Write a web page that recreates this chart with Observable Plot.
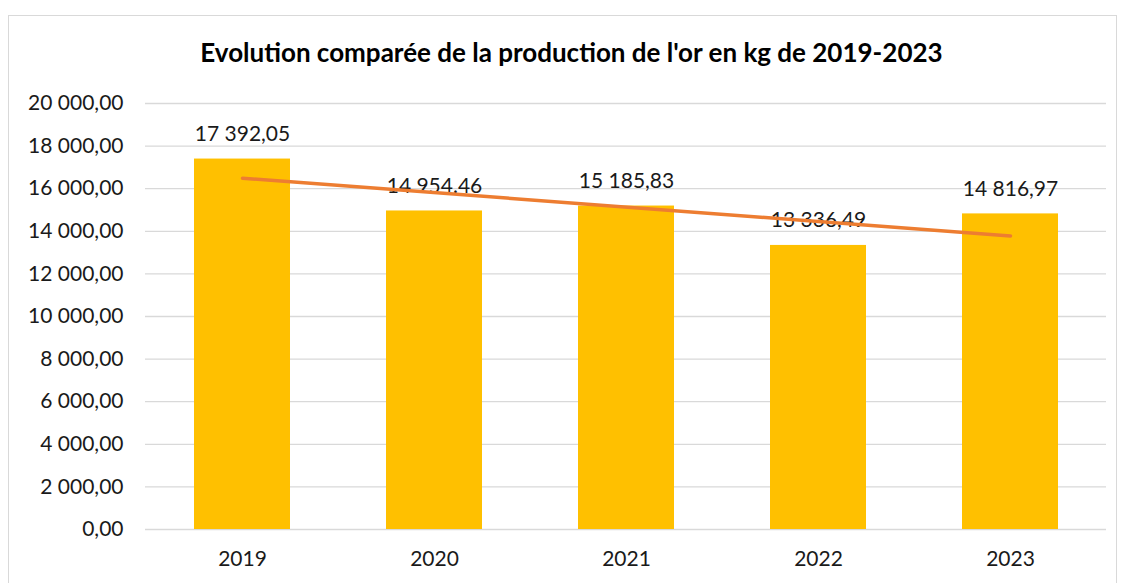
<!DOCTYPE html>
<html>
<head>
<meta charset="utf-8">
<script src="https://cdn.jsdelivr.net/npm/d3@7"></script>
<script src="https://cdn.jsdelivr.net/npm/@observablehq/plot@0.6"></script>
<style>
  html, body { margin: 0; padding: 0; background: #fff; }
  body { width: 1121px; height: 583px; position: relative; overflow: hidden; font-family: Lato, "Open Sans", sans-serif; }
  #frame { position: absolute; left: 8px; top: 15px; width: 1109px; height: 620px; border: 1px solid #d9d9d9; box-sizing: border-box; }
  #title { position: absolute; left: 0; top: 35px; width: 1143px; text-align: center; font-weight: bold; font-size: 26px; line-height: 34px; color: #000; }
  #chart { position: absolute; left: 0; top: 80px; }
</style>
</head>
<body>
<div id="frame"></div>
<div id="title">Evolution comparée de la production de l'or en kg de 2019-2023</div>
<div id="chart"></div>
<script>
const years = ["2019", "2020", "2021", "2022", "2023"];
const production = [17392.05, 14954.46, 15185.83, 13336.49, 14816.97];
const valueLabels = ["17 392,05", "14 954.46", "15 185,83", "13 336,49", "14 816,97"];
const trendYears = ["2019", "2023"];
const trendValues = [16490.8, 13783.5];
const yTicks = [0, 2000, 4000, 6000, 8000, 10000, 12000, 14000, 16000, 18000, 20000];
const yTickLabels = ["0,00", "2 000,00", "4 000,00", "6 000,00", "8 000,00", "10 000,00", "12 000,00", "14 000,00", "16 000,00", "18 000,00", "20 000,00"];

const data = years.map((y, i) => ({year: y, value: production[i], label: valueLabels[i]}));
const trend = trendYears.map((y, i) => ({year: y, value: trendValues[i]}));
const tickLabel = new Map(yTicks.map((t, i) => [t, yTickLabels[i]]));

const chart = Plot.plot({
  width: 1121,
  height: 503,
  marginLeft: 145,
  marginRight: 15,
  marginTop: 23,
  marginBottom: 54,
  style: {fontFamily: "Lato, 'Open Sans', sans-serif", fontSize: "21px", color: "#1a1a1a", background: "transparent"},
  x: {domain: years, paddingInner: 0.5, paddingOuter: 0.25, label: null, tickSize: 0, tickPadding: 22},
  y: {domain: [0, 20000], ticks: yTicks, tickFormat: d => tickLabel.get(d), label: null, tickSize: 0, tickPadding: 22},
  marks: [
    Plot.gridY(yTicks, {stroke: "#d9d9d9", strokeOpacity: 1, strokeWidth: 1.3}),
    Plot.barY(data, {x: "year", y: "value", fill: "#FFC000"}),
    Plot.text(data, {x: "year", y: "value", text: "label", dy: -25, lineAnchor: "middle", fill: "#1a1a1a", fontSize: 21}),
    Plot.line(trend, {x: "year", y: "value", stroke: "#ED7D31", strokeWidth: 3.5, strokeLinecap: "round"})
  ]
});
document.getElementById("chart").appendChild(chart);
</script>
</body>
</html>
